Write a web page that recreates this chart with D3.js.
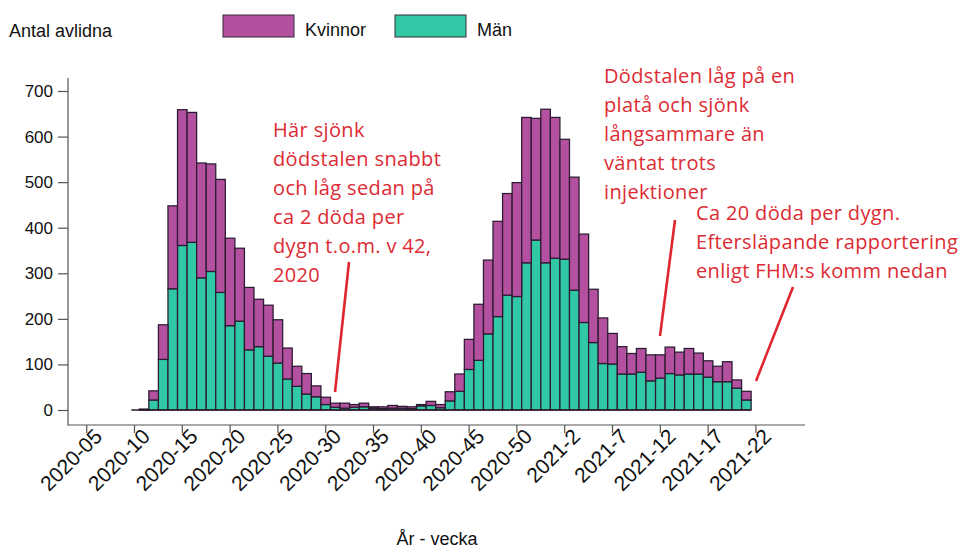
<!DOCTYPE html>
<html><head><meta charset="utf-8">
<script src="https://cdn.jsdelivr.net/npm/d3@7"></script>
<style>
html,body{margin:0;padding:0;background:#fff;}
svg{display:block;}
</style></head>
<body>
<svg id="chart" width="962" height="549"></svg>
<script>
// ---- DATA ----
const weeks = ["2020-11","2020-12","2020-13","2020-14","2020-15","2020-16","2020-17","2020-18","2020-19","2020-20",
"2020-21","2020-22","2020-23","2020-24","2020-25","2020-26","2020-27","2020-28","2020-29","2020-30",
"2020-31","2020-32","2020-33","2020-34","2020-35","2020-36","2020-37","2020-38","2020-39","2020-40",
"2020-41","2020-42","2020-43","2020-44","2020-45","2020-46","2020-47","2020-48","2020-49","2020-50",
"2020-51","2020-52","2020-53","2021-1","2021-2","2021-3","2021-4","2021-5","2021-6","2021-7",
"2021-8","2021-9","2021-10","2021-11","2021-12","2021-13","2021-14","2021-15","2021-16","2021-17",
"2021-18","2021-19","2021-20","2021-21"];
const man = [1,22,111,266,361,368,290,304,258,185,
195,132,139,118,103,68,52,35,29,12,
6,4,6,7,4,3,4,4,3,9,
10,5,20,41,89,109,167,205,252,249,
323,373,323,333,331,263,192,148,102,101,
79,79,83,64,70,80,77,79,79,72,
62,62,48,22];
const kvinnor = [1,20,76,182,298,285,252,236,248,192,
160,137,104,112,95,68,44,45,24,16,
9,11,6,8,3,4,6,4,4,3,
9,7,20,38,66,123,162,209,223,250,
319,267,337,309,263,248,194,117,100,67,
60,45,52,57,51,58,50,56,46,36,
34,44,18,19];
const yTicks = [0,100,200,300,400,500,600,700];
const xTickLabels = ["2020-05","2020-10","2020-15","2020-20","2020-25","2020-30","2020-35","2020-40","2020-45",
"2020-50","2021-2","2021-7","2021-12","2021-17","2021-22"];
const seriesNames = ["Kvinnor","Män"];
const seriesColors = ["#b3509f","#31c8a5"];
const annotations = [
  {lines:["Här sjönk","dödstalen snabbt","och låg sedan på","ca 2 döda per","dygn t.o.m. v 42,","2020"], x:273, y:137, from:[349,262], to:[335,392]},
  {lines:["Dödstalen låg på en","platå och sjönk","långsammare än","väntat trots","injektioner"], x:604, y:83, from:[675,220], to:[660,336]},
  {lines:["Ca 20 döda per dygn.","Eftersläpande rapportering","enligt FHM:s komm nedan"], x:696, y:220, from:[793,287], to:[756,381]}
];

// ---- AXIS DOMAIN (all weeks shown on axis) ----
const allWeeks = [];
for (let w = 3; w <= 53; w++) allWeeks.push("2020-" + String(w).padStart(2,"0"));
for (let w = 1; w <= 27; w++) allWeeks.push("2021-" + w);

const svg = d3.select("#chart");
const x = d3.scaleBand().domain(allWeeks).range([62.8, 808.5]).padding(0);
const y = d3.scaleLinear().domain([0,700]).range([410,91]);

const rows = weeks.map((w,i)=>({week:w, "Män":man[i], "Kvinnor":kvinnor[i]}));
const stack = d3.stack().keys(["Män","Kvinnor"]);
const layers = stack(rows);
const color = d3.scaleOrdinal().domain(seriesNames).range(seriesColors);

// bars
svg.append("g").selectAll("g").data(layers).join("g")
  .attr("fill", d=>color(d.key))
  .selectAll("rect").data(d=>d).join("rect")
  .attr("x", d=>x(d.data.week))
  .attr("width", x.bandwidth())
  .attr("y", d=>y(d[1]))
  .attr("height", d=>Math.max(0.6, y(d[0])-y(d[1])))
  .attr("stroke","#2a1b30").attr("stroke-width",1.25);

// baseline under bars
svg.append("line")
  .attr("x1", x(weeks[0])-8).attr("x2", x(weeks[weeks.length-1])+x.bandwidth())
  .attr("y1", y(0)).attr("y2", y(0))
  .attr("stroke","#2a1b30").attr("stroke-width",1.4);

// y axis
const yAxis = svg.append("g").attr("transform","translate(68,0)")
  .call(d3.axisLeft(y).tickValues(yTicks).tickSize(10).tickPadding(5));
yAxis.select(".domain").attr("d","M0,78V425.5");
yAxis.selectAll("path,line").attr("stroke","#555").attr("stroke-width",1.2);
yAxis.selectAll("text").attr("font-family","Liberation Sans, Arial, sans-serif")
  .attr("font-size",17).attr("fill","#111");

// x axis
const xAxis = svg.append("g").attr("transform","translate(0,425)")
  .call(d3.axisBottom(x).tickValues(xTickLabels).tickSize(8).tickSizeOuter(0));
xAxis.select(".domain").attr("d","M68,0H805");
xAxis.selectAll("path,line").attr("stroke","#555").attr("stroke-width",1.2);
xAxis.selectAll("text")
  .attr("font-family","Liberation Sans, Arial, sans-serif")
  .attr("font-size",21).attr("fill","#111")
  .attr("text-anchor","end")
  .attr("transform","translate(6,2) rotate(-45)")
  .attr("dy","0.72em").attr("y",0).attr("x",0);

// titles
svg.append("text").attr("x",9).attr("y",37)
  .attr("font-family","Liberation Sans, Arial, sans-serif").attr("font-size",18).attr("fill","#111")
  .text("Antal avlidna");
svg.append("text").attr("x",437).attr("y",545).attr("text-anchor","middle")
  .attr("font-family","Liberation Sans, Arial, sans-serif").attr("font-size",18).attr("fill","#111")
  .text("År - vecka");

// legend
const legX = [223, 395];
seriesNames.forEach((n,i)=>{
  svg.append("rect").attr("x",legX[i]).attr("y",15).attr("width",71).attr("height",22)
    .attr("fill",color(n)).attr("stroke","#3a2a3a").attr("stroke-width",1);
  svg.append("text").attr("x",legX[i]+82).attr("y",36)
    .attr("font-family","Liberation Sans, Arial, sans-serif").attr("font-size",18).attr("fill","#111")
    .text(n);
});

// annotations
const red = "#dc2b33";
annotations.forEach(a=>{
  const t = svg.append("text").attr("font-family","Open Sans, Noto Sans, sans-serif")
    .attr("font-size",20).attr("letter-spacing",0.35).attr("fill",red);
  a.lines.forEach((l,i)=>{
    t.append("tspan").attr("x",a.x).attr("y",a.y + i*29).text(l);
  });
  svg.append("line").attr("x1",a.from[0]).attr("y1",a.from[1]).attr("x2",a.to[0]).attr("y2",a.to[1])
    .attr("stroke","#e0262e").attr("stroke-width",2.6);
});
</script>
</body></html>
